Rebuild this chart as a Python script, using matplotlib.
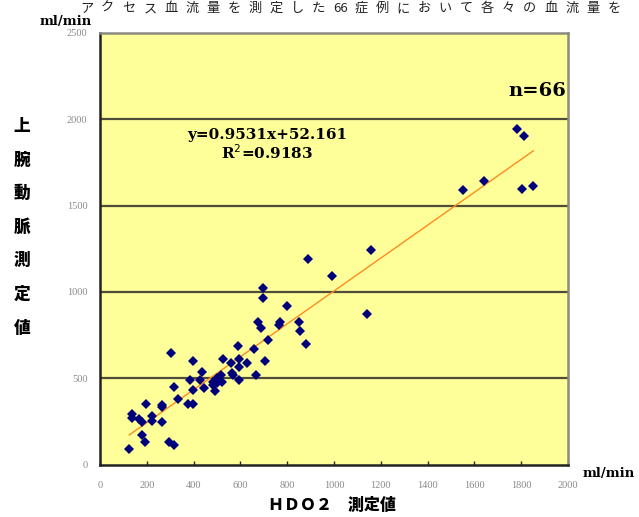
import numpy as np
import matplotlib
matplotlib.use("Agg")
import matplotlib.pyplot as plt

plt.rcParams['font.family'] = ['Noto Sans CJK JP', 'DejaVu Sans']

# HDO2 measurement (ml/min)
hdo2 = [1781, 1813, 1641, 1553, 1802, 1852, 1159, 890, 990, 1140,
        698, 698, 799, 677, 688, 769, 766, 849, 856, 880,
        719, 588, 659, 303, 397, 524, 558, 595, 595, 629,
        705, 666, 438, 385, 427, 563, 570, 595, 515, 499,
        484, 499, 520, 491, 485, 446, 316, 397, 335, 195,
        265, 375, 396, 135, 135, 165, 178, 224, 224, 264,
        178, 194, 294, 315, 125, 266]
# brachial artery measurement (ml/min)
brachial = [1944, 1901, 1640, 1588, 1598, 1611, 1242, 1190, 1092, 873,
            1020, 962, 918, 828, 788, 828, 806, 828, 776, 699,
            720, 687, 670, 648, 599, 611, 586, 612, 566, 587,
            600, 519, 535, 492, 492, 529, 519, 490, 516, 500,
            480, 471, 480, 427, 458, 444, 450, 432, 381, 353,
            343, 351, 351, 293, 268, 264, 248, 281, 251, 248,
            169, 128, 131, 113, 89, 334]

slope = 0.9531
intercept = 52.161
r2 = 0.9183

xticks = list(range(0, 2001, 200))
yticks = list(range(0, 2501, 500))

title_tokens = ["ア", "ク", "セ", "ス", "血", "流", "量", "を", "測", "定", "し", "た",
                "66", "症", "例", "に", "お", "い", "て", "各", "々", "の",
                "血", "流", "量", "を"]
ylabel_chars = ["上", "腕", "動", "脈", "測", "定", "値"]

W, H = 639, 517
fig = plt.figure(figsize=(W / 100, H / 100), dpi=100)
ax = fig.add_axes([100 / W, (H - 464.5) / H, 468 / W, 431.5 / H])
ax.set_facecolor('#ffff99')
ax.set_xlim(0, 2000)
ax.set_ylim(0, 2500)

for yv in yticks[1:-1]:
    ax.axhline(yv, color='#4d4d3a', lw=1.6, zorder=1)

# regression line over the data range
xs = np.array([min(hdo2), max(hdo2)])
ax.plot(xs, slope * xs + intercept, color='#ff8a1f', lw=1.0, zorder=2)
ax.plot(hdo2, brachial, 'D', color='#00007a', markersize=4.8,
        markeredgewidth=0, zorder=3)

ax.set_xticks(xticks)
ax.set_yticks(yticks)
ax.set_xticklabels([str(v) for v in xticks])
ax.set_yticklabels([str(v) for v in yticks])
ax.tick_params(axis='x', direction='in', length=3, width=1, color='#222222',
               pad=12, labelsize=7.5, labelcolor='#8a8a8a')
ax.tick_params(axis='y', length=0, pad=9, labelsize=7.5, labelcolor='#8a8a8a')
for lab in ax.get_xticklabels() + ax.get_yticklabels():
    lab.set_family('Liberation Serif')

for side in ('left', 'bottom'):
    ax.spines[side].set_color('#222222')
    ax.spines[side].set_linewidth(1.8)
for side in ('top', 'right'):
    ax.spines[side].set_color('#8a8a80')
    ax.spines[side].set_linewidth(1.8)

serif_bold = dict(fontweight='bold', family='DejaVu Serif')
ax.text(0.358, 0.763, "y=0.9531x+52.161", transform=ax.transAxes, ha='center',
        va='center', fontsize=11, **serif_bold)
ax.text(0.358, 0.722, "R$^2$=%.4f" % r2, transform=ax.transAxes, ha='center',
        va='center', fontsize=11, **serif_bold)
ax.text(0.997, 0.866, "n=66", transform=ax.transAxes, ha='right', va='center',
        fontsize=14, **serif_bold)

# unit labels
fig.text(40 / W, 1 - 21 / H, "ml/min", ha='left', va='center', fontsize=9.5,
         **serif_bold)
fig.text(583 / W, 1 - 473 / H, "ml/min", ha='left', va='center', fontsize=9.5,
         **serif_bold)

# vertical y-axis label, one character per row
for i, ch in enumerate(ylabel_chars):
    fig.text(22 / W, 1 - (126 + i * 33.6) / H, ch, ha='center', va='center',
             fontsize=12, fontweight='heavy')

fig.text(332 / W, 1 - 505 / H, "ＨＤＯ２　測定値", ha='center', va='center',
         fontsize=11.5, fontweight='heavy')

# caption along the top edge
for i, tok in enumerate(title_tokens):
    fig.text((80 + i * 21.1) / W, 1 - 12 / H, tok, ha='left', va='baseline',
             fontsize=9.5, color='#222222')

fig.savefig("out.png", dpi=100)
